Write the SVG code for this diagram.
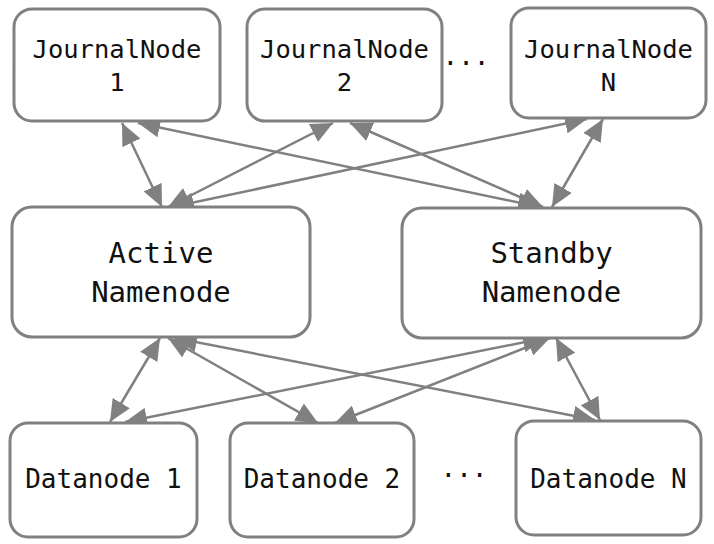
<svg xmlns="http://www.w3.org/2000/svg" width="714" height="544" viewBox="0 0 714 544">
<style>
.box{fill:#fff;stroke:#808080;stroke-width:3}
.t{font-family:"DejaVu Sans Mono","Liberation Mono",monospace;fill:#111;text-anchor:middle}
.c line{stroke:#808080;stroke-width:2.5;marker-start:url(#ah);marker-end:url(#ah)}
</style>
<defs>
<marker id="ah" viewBox="0 0 22 20" refX="22" refY="10" markerWidth="22" markerHeight="20" markerUnits="userSpaceOnUse" orient="auto-start-reverse">
<path d="M0,0 L22,10 L0,20 z" fill="#808080"/>
</marker>
</defs>
<rect width="714" height="544" fill="#fff"/>
<g class="c" id="connectors">
<line x1="122" y1="123" x2="162" y2="207"/>
<line x1="138" y1="123" x2="540" y2="207"/>
<line x1="333" y1="123" x2="168" y2="207"/>
<line x1="350" y1="123" x2="543" y2="207"/>
<line x1="587" y1="119" x2="172" y2="207"/>
<line x1="603" y1="119" x2="552" y2="207"/>
<line x1="160" y1="338" x2="110" y2="422"/>
<line x1="168" y1="338" x2="318" y2="423"/>
<line x1="175" y1="338" x2="595" y2="420"/>
<line x1="545" y1="338" x2="125" y2="422"/>
<line x1="550" y1="338" x2="335" y2="423"/>
<line x1="556" y1="338" x2="600" y2="420"/>
</g>
<g id="jn1"><rect class="box" x="14" y="9" width="206" height="112" rx="18"/><text class="t" x="117" y="58" font-size="25.5">JournalNode</text><text class="t" x="117" y="91" font-size="25.5">1</text></g>
<g id="jn2"><rect class="box" x="247" y="9" width="195" height="112" rx="18"/><text class="t" x="344.5" y="58" font-size="25.5">JournalNode</text><text class="t" x="344.5" y="91" font-size="25.5">2</text></g>
<g id="jnn"><rect class="box" x="511" y="8" width="195" height="110" rx="18"/><text class="t" x="608.5" y="58" font-size="25.5">JournalNode</text><text class="t" x="608.5" y="91" font-size="25.5">N</text></g>
<text class="t" x="466" y="65" font-size="26">...</text>
<g id="active"><rect class="box" x="12" y="207" width="298" height="130" rx="20"/><text class="t" x="161" y="263" font-size="29">Active</text><text class="t" x="161" y="302" font-size="29">Namenode</text></g>
<g id="standby"><rect class="box" x="402" y="208" width="299" height="130" rx="20"/><text class="t" x="551.5" y="263" font-size="29">Standby</text><text class="t" x="551.5" y="302" font-size="29">Namenode</text></g>
<g id="dn1"><rect class="box" x="10" y="423" width="187" height="114" rx="18"/><text class="t" x="103.5" y="488" font-size="26">Datanode 1</text></g>
<g id="dn2"><rect class="box" x="230" y="423" width="184" height="114" rx="18"/><text class="t" x="322" y="488" font-size="26">Datanode 2</text></g>
<g id="dnn"><rect class="box" x="516" y="421" width="185" height="114" rx="18"/><text class="t" x="608.5" y="488" font-size="26">Datanode N</text></g>
<text class="t" x="464" y="477" font-size="26">...</text>
</svg>
